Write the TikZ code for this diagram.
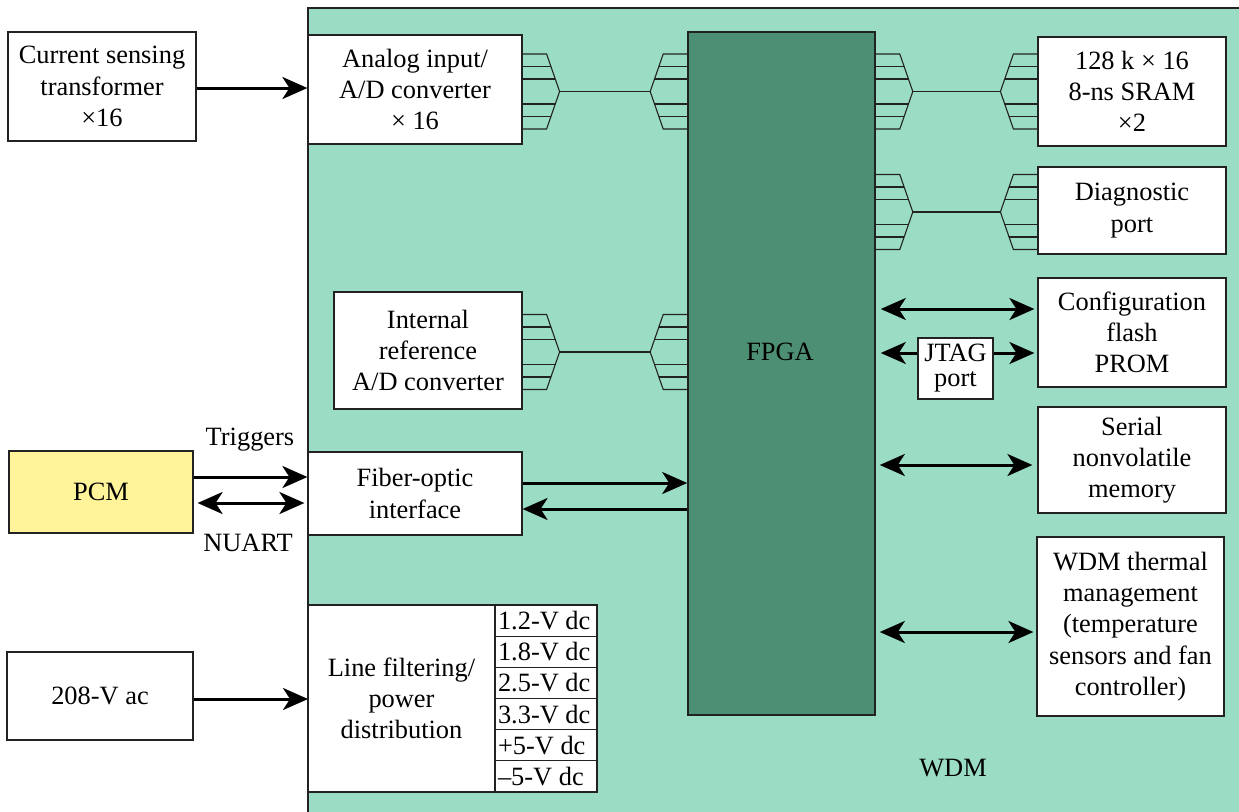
\documentclass[tikz,border=0pt]{standalone}
\usepackage{fontspec}
\setmainfont{Liberation Serif}
\usetikzlibrary{arrows.meta,calc}
\definecolor{wdmc}{RGB}{155,221,196}
\definecolor{fpgac}{RGB}{76,143,114}
\definecolor{pcmc}{RGB}{255,244,154}
\definecolor{edgec}{RGB}{34,34,34}
\newcommand{\celltext}[1]{\makebox[48pt][l]{#1}}
\begin{document}
\begin{tikzpicture}[x=0.5pt,y=-0.5pt,
  txt/.style={font=\fontsize{13.2}{15.6}\selectfont, align=center, inner sep=0pt},
  box/.style={txt, draw=edgec, line width=0.6pt, fill=white},
  cell/.style={draw=edgec, line width=0.6pt, fill=white, font=\fontsize{13.2}{15}\selectfont,
    inner xsep=1.5pt, inner ysep=0pt, outer sep=0pt, minimum width=51pt, minimum height=15.58pt},
  busline/.style={draw=edgec, line width=0.55pt},
  arr/.style={line width=1.5pt, -{Stealth[length=12.5pt,width=11pt,inset=3.5pt]}},
  darr/.style={line width=1.5pt, {Stealth[length=12.5pt,width=11pt,inset=3.5pt]}-{Stealth[length=12.5pt,width=11pt,inset=3.5pt]}},
  busfan/.pic={
    \draw[busline] (0,-37.5) -- (24,-37.5) -- (37,0) -- (24,37.5) -- (0,37.5);
    \draw[busline] (0,-25) -- (28.3,-25) (0,-12.5) -- (32.7,-12.5)
                   (0,12.5) -- (32.7,12.5) (0,25) -- (28.3,25);
    \coordinate (-tip) at (37,0);
  }
]
\useasboundingbox (0,0) rectangle (1239,811);
\fill[white] (0,0) rectangle (1239,811);
% WDM region
\draw[draw=edgec, fill=wdmc, line width=0.6pt] (308,8) rectangle (1250,830);
\node[txt] (wdmlabel) at (953,768) {WDM};

% FPGA
\node[draw=edgec, line width=0.8pt, fill=fpgac, minimum width=93.5pt, minimum height=341.5pt, inner sep=0pt] (fpga) at (781.5,373.5) {};
\node[txt] (fpgatxt) at (780,352) {FPGA};

% left boxes
\node[box, minimum width=94pt, minimum height=54.5pt] (cst) at (102,86.5) {Current sensing\\transformer\\×16};
\node[box, minimum width=107pt, minimum height=54.5pt] (ana) at (415,89.5) {Analog input/\\A/D converter\\× 16};
\node[box, minimum width=94pt, minimum height=58.5pt] (iref) at (428,350.5) {Internal\\reference\\A/D converter};
\node[box, minimum width=107pt, minimum height=41.5pt] (fib) at (415,493.5) {Fiber-optic\\interface};
\node[box, fill=pcmc, minimum width=92pt, minimum height=41pt] (pcm) at (101,492) {PCM};
\node[box, minimum width=93pt, minimum height=44pt] (ac) at (100,696) {208-V ac};
\node[box, outer sep=0pt, minimum width=93.5pt, minimum height=93.5pt] (lf) at (401.5,698.5) {Line filtering/\\power\\distribution};

% voltage cells
\node[cell, anchor=north west] (v1) at (lf.north east) {\celltext{1.2-V dc}};
\node[cell, anchor=north] (v2) at (v1.south) {\celltext{1.8-V dc}};
\node[cell, anchor=north] (v3) at (v2.south) {\celltext{2.5-V dc}};
\node[cell, anchor=north] (v4) at (v3.south) {\celltext{3.3-V dc}};
\node[cell, anchor=north] (v5) at (v4.south) {\celltext{+5-V dc}};
\node[cell, anchor=north] (v6) at (v5.south) {\celltext{–5-V dc}};

% right boxes
\node[box, minimum width=94pt, minimum height=54.5pt] (sram) at (1132,91.5) {128 k × 16\\8-ns SRAM\\×2};
\node[box, minimum width=94pt, minimum height=43.5pt] (diag) at (1132,210.5) {Diagnostic\\port};
\node[box, minimum width=94pt, minimum height=54.5pt] (cfg) at (1132,332.5) {Configuration\\flash\\PROM};
\node[box, font=\fontsize{13.2}{12.5}\selectfont, minimum width=37.5pt, minimum height=30.5pt] (jtag) at (955.5,368.5) {JTAG\\port};
\node[box, minimum width=94pt, minimum height=53pt] (ser) at (1132,460) {Serial\\nonvolatile\\memory};
\node[box, minimum width=93.5pt, minimum height=89.5pt] (thm) at (1130.5,626.5) {WDM thermal\\management\\(temperature\\sensors and fan\\controller)};

% buses
\pic (bA) at (ana.east |- sram.west) {busfan};
\pic[xscale=-1] (bB) at (fpga.west |- sram.west) {busfan};
\draw[busline] (bA-tip) -- (bB-tip);
\pic (bC) at (fpga.east |- sram.west) {busfan};
\pic[xscale=-1] (bD) at (sram.west) {busfan};
\draw[busline] (bC-tip) -- (bD-tip);
\pic (bE) at (fpga.east |- 0,212) {busfan};
\pic[xscale=-1] (bF) at (diag.west |- 0,212) {busfan};
\draw[busline] (bE-tip) -- (bF-tip);
\pic (bG) at (iref.east |- 0,352) {busfan};
\pic[xscale=-1] (bH) at (fpga.west |- 0,352) {busfan};
\draw[busline] (bG-tip) -- (bH-tip);

% arrows
\draw[arr] (cst.east |- 0,88) -- (ana.west |- 0,88);
\draw[arr] (pcm.east |- 0,477) -- (fib.west |- 0,477);
\draw[darr, shorten <=2pt, shorten >=1.5pt] (pcm.east |- 0,503) -- (fib.west |- 0,503);
\node[txt] (trig) at (250,440) {Triggers};
\node[txt] (nuart) at (248,543) {NUART};
\draw[arr] (ac.east |- 0,699) -- (lf.west |- 0,699);
\draw[arr] (fib.east |- 0,483) -- (fpga.west |- 0,483);
\draw[arr] (fpga.west |- 0,509) -- (fib.east |- 0,509);
\draw[darr, shorten <=2.5pt, shorten >=1.5pt] (fpga.east |- 0,309) -- (cfg.west |- 0,309);
\draw[arr, shorten >=2.5pt] (jtag.west |- 0,353) -- (fpga.east |- 0,353);
\draw[arr, shorten >=1.5pt] (jtag.east |- 0,353) -- (cfg.west |- 0,353);
\draw[darr, shorten <=2pt, shorten >=2.5pt] (fpga.east |- 0,465) -- (ser.west |- 0,465);
\draw[darr, shorten <=2pt, shorten >=1.5pt] (fpga.east |- 0,632) -- (thm.west |- 0,632);
\end{tikzpicture}
\end{document}
